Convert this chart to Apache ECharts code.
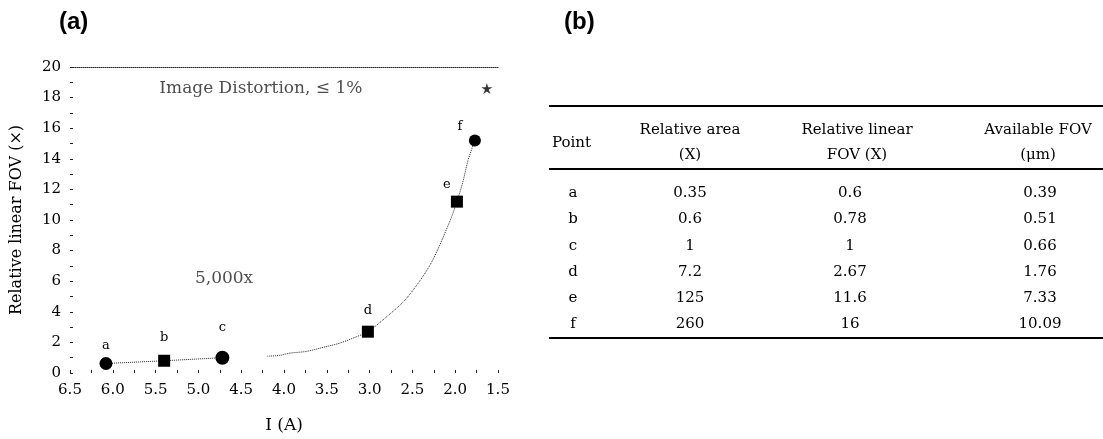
<!DOCTYPE html>
<html><head><meta charset="utf-8">
<script src="https://cdn.jsdelivr.net/npm/echarts@6/dist/echarts.min.js"></script>
<style>html,body{margin:0;padding:0;background:#fff}#c{width:1103px;height:439px}</style>
</head><body><div id="c"></div>
<script>
// ---------- data (a) ----------
const pointNames = ['a', 'b', 'c', 'd', 'e', 'f'];
const currentA   = [6.08, 5.40, 4.72, 3.02, 1.98, 1.77];
const linearFov  = [0.62, 0.8, 1.0, 2.7, 11.2, 15.2];
const curveX = [4.2, 4.05, 3.93, 3.74, 3.54, 3.35, 3.15, 3.02, 2.80, 2.57, 2.29, 2.06, 1.98, 1.91, 1.85, 1.77];
const curveY = [1.1, 1.15, 1.3, 1.41, 1.68, 1.95, 2.38, 2.7, 3.68, 4.87, 7.1, 9.95, 11.2, 12.5, 13.9, 15.2];
const annoText = ['Image Distortion, \u2264 1%', '5,000x'];
const annoX = [4.27, 4.70];
const annoY = [18.6, 6.2];
const starX = [1.63];
const starY = [18.6];
const xTickLabels = ['6.5','6.0','5.5','5.0','4.5','4.0','3.5','3.0','2.5','2.0','1.5'];
const yTickLabels = ['0','2','4','6','8','10','12','14','16','18','20'];
// ---------- data (b) ----------
const tableHeaders = ['Point', 'Relative area\n(X)', 'Relative linear\nFOV (X)', 'Available FOV\n(\u03bcm)'];
const colPoint   = ['a', 'b', 'c', 'd', 'e', 'f'];
const colArea    = ['0.35', '0.6', '1', '7.2', '125', '260'];
const colLinear  = ['0.6', '0.78', '1', '2.67', '11.6', '16'];
const colAvail   = ['0.39', '0.51', '0.66', '1.76', '7.33', '10.09'];

// ---------- styles ----------
const SERIF = '"DejaVu Serif", "Liberation Serif", serif';
const shapes = ['circle', 'rect', 'circle', 'rect', 'rect', 'circle'];
const sizes = [13, 12, 14, 12, 12, 12];
const labelOffsets = [[0, 0], [0, -6], [0, -12], [0, -4], [-10, 0], [-15, 4]];

const pts = currentA.map((x, i) => ({
  value: [x, linearFov[i]],
  name: pointNames[i],
  symbol: shapes[i],
  symbolSize: sizes[i],
  label: { offset: labelOffsets[i] }
}));

const chart = echarts.init(document.getElementById('c'), null, { renderer: 'canvas' });

const g = [];
g.push({ type: 'text', x: 59, y: 22, style: { text: '(a)', font: 'bold 24px "Liberation Sans", Arial, sans-serif', fill: '#000', textAlign: 'left', textVerticalAlign: 'middle' } });
g.push({ type: 'text', x: 564, y: 22, style: { text: '(b)', font: 'bold 24px "Liberation Sans", Arial, sans-serif', fill: '#000', textAlign: 'left', textVerticalAlign: 'middle' } });
const tblL = 549, tblR = 1103;
[[106, 2], [169, 2], [338, 2]].forEach(([y, w]) => {
  g.push({ type: 'line', shape: { x1: tblL, y1: y, x2: tblR, y2: y }, style: { stroke: '#000', lineWidth: w } });
});
const colX = [573, 690, 850, 1040];
const headerX = [552, 690, 857, 1038];
tableHeaders.forEach((h, i) => {
  g.push({ type: 'text', x: headerX[i], y: 143, style: { text: h, font: '15px ' + SERIF, fill: '#000', textAlign: i === 0 ? 'left' : 'center', textVerticalAlign: 'middle', lineHeight: 25 } });
});
const rowY = [193, 219, 246, 272, 298, 324];
[colPoint, colArea, colLinear, colAvail].forEach((col, ci) => {
  col.forEach((t, ri) => {
    g.push({ type: 'text', x: colX[ci], y: rowY[ri], style: { text: t, font: '15px ' + SERIF, fill: '#000', textAlign: 'center', textVerticalAlign: 'middle' } });
  });
});

const option = {
  backgroundColor: '#fff',
  animation: false,
  grid: { left: 70, right: 605, top: 67, bottom: 64 },
  xAxis: [{
    type: 'value', inverse: true, min: 1.5, max: 6.5, interval: 0.5,
    name: 'I (A)', nameLocation: 'middle', nameGap: 44,
    nameTextStyle: { fontFamily: SERIF, fontSize: 17, color: '#000' },
    axisLine: { show: false },
    axisTick: { show: true, inside: true, length: 3, lineStyle: { color: '#222' } },
    minorTick: { show: true, splitNumber: 2, length: 3, lineStyle: { color: '#222' } },
    splitLine: { show: false },
    axisLabel: { fontFamily: SERIF, fontSize: 15, color: '#000', margin: 10,
      formatter: v => xTickLabels[Math.round((6.5 - v) / 0.5)] }
  }, {
    type: 'value', position: 'top', inverse: true, min: 1.5, max: 6.5,
    axisLine: { show: true, lineStyle: { color: '#222', type: 'dotted', width: 1 } },
    axisTick: { show: false }, axisLabel: { show: false }, splitLine: { show: false }
  }],
  yAxis: {
    type: 'value', min: 0, max: 20, interval: 2,
    name: 'Relative linear FOV (\u00d7)', nameLocation: 'middle', nameGap: 45,
    nameTextStyle: { fontFamily: SERIF, fontSize: 16, color: '#000' },
    axisLine: { show: false },
    axisTick: { show: true, inside: true, length: 3, lineStyle: { color: '#222' } },
    minorTick: { show: true, splitNumber: 2, length: 3, lineStyle: { color: '#222' } },
    splitLine: { show: false },
    axisLabel: { fontFamily: SERIF, fontSize: 15, color: '#000', margin: 9,
      formatter: v => yTickLabels[Math.round(v / 2)] }
  },
  series: [
    {
      type: 'line', data: currentA.slice(0, 3).map((x, i) => [x, linearFov[i]]),
      showSymbol: false, lineStyle: { color: '#222', width: 1, type: 'dotted' }, z: 1
    },
    {
      type: 'line', smooth: 0.3, data: curveX.map((x, i) => [x, curveY[i]]),
      showSymbol: false, lineStyle: { color: '#222', width: 1, type: 'dotted' }, z: 1
    },
    {
      type: 'scatter', data: pts, itemStyle: { color: '#000', opacity: 1 }, z: 3,
      label: { show: true, position: 'top', formatter: p => p.name, fontFamily: SERIF, fontSize: 13, color: '#000' }
    },
    {
      type: 'scatter', data: annoX.map((x, i) => ({ value: [x, annoY[i]], name: annoText[i] })),
      symbolSize: 0,
      label: { show: true, position: 'inside', formatter: p => p.name, fontFamily: SERIF, fontSize: 17, color: '#222' }
    },
    {
      type: 'scatter', data: starX.map((x, i) => [x, starY[i]]),
      symbol: 'path://M0,-10 L2,-3 L9,-3 L3,1 L6,8 L0,4 L-6,8 L-3,1 L-9,-3 L-2,-3 Z',
      symbolSize: 11, itemStyle: { color: '#333', opacity: 1 }
    }
  ],
  graphic: g
};
chart.setOption(option);
</script>
</body></html>
